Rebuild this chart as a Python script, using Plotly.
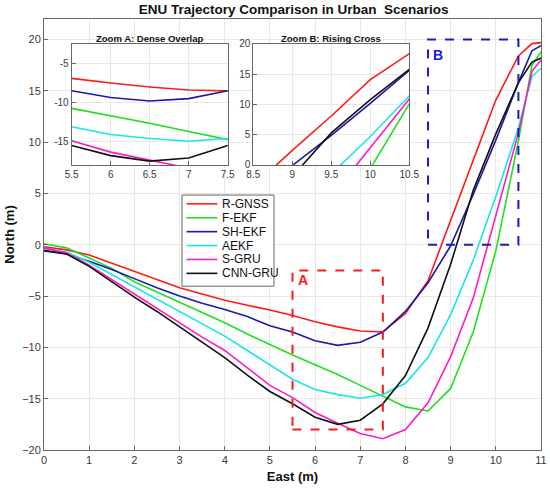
import plotly.graph_objects as go

# East positions (m)
east = [0, 0.5, 1, 1.5, 2, 2.5, 3, 3.5, 4, 4.5, 5, 5.5, 6, 6.5, 7, 7.5,
        8, 8.5, 9, 9.5, 10, 10.5, 10.8, 11]

# North positions (m) per method
r_gnss = [-0.2, -0.5, -1.0, -1.8, -2.6, -3.4, -4.2, -4.8, -5.4, -5.9, -6.35, -6.9,
          -7.5, -8.0, -8.4, -8.5, -6.7, -3.5, 2.4, 8.1, 14.1, 18.4, 19.6, 19.7]
f_ekf = [0.1, -0.3, -1.3, -2.3, -3.6, -4.6, -5.6, -6.6, -7.6, -8.7, -9.75, -10.75,
         -11.7, -12.65, -13.7, -14.75, -15.8, -16.2, -14.0, -8.5, -0.6, 10.1, 17.5, 18.8]
sh_ekf = [-0.5, -0.9, -1.6, -2.4, -3.3, -4.2, -5.0, -5.7, -6.3, -7.0, -7.9, -8.5,
          -9.35, -9.8, -9.5, -8.5, -6.5, -3.7, -0.1, 4.9, 10.2, 15.8, 18.9, 19.4]
aekf = [-0.4, -0.7, -1.7, -2.9, -4.1, -5.3, -6.5, -7.7, -8.9, -10.3, -11.7, -13.1,
        -14.1, -14.6, -14.95, -14.6, -13.5, -11.0, -6.8, -1.5, 4.7, 11.4, 16.4, 17.2]
s_gru = [-0.3, -0.8, -2.0, -3.4, -4.85, -6.2, -7.6, -9.0, -10.3, -12.0, -13.7, -14.9,
         -16.35, -17.4, -18.4, -18.9, -18.0, -15.4, -10.9, -5.2, 2.9, 10.9, 16.9, 18.0]
cnn_gru = [-0.6, -0.9, -2.1, -3.6, -5.1, -6.5, -8.0, -9.5, -11.0, -12.7, -14.3, -15.5,
           -16.8, -17.5, -17.1, -15.5, -12.75, -8.1, -1.9, 5.3, 10.8, 15.8, 17.8, 18.2]

names = ["R-GNSS", "F-EKF", "SH-EKF", "AEKF", "S-GRU", "CNN-GRU"]
series = [r_gnss, f_ekf, sh_ekf, aekf, s_gru, cnn_gru]
colors = ["#FF1A1A", "#1FE01F", "#1A1AA6", "#1AE6E6", "#FF1AC6", "#111111"]

# zoom windows
zoom_a = dict(x=[5.5, 7.5], y=[-18, -2.5])
zoom_b = dict(x=[8.5, 10.5], y=[0, 20])

FONT = "Arial, Liberation Sans, sans-serif"

fig = go.Figure()

for axis_x, axis_y in [("x", "y"), ("x2", "y2"), ("x3", "y3")]:
    for n, s, c in zip(names, series, colors):
        fig.add_trace(go.Scatter(x=east, y=s, name=n, mode="lines",
                                 line=dict(color=c, width=1.6),
                                 xaxis=axis_x, yaxis=axis_y, showlegend=False))

tick_font = dict(family=FONT, size=11, color="#3a3a3a")
axis_common = dict(showline=True, linecolor="#666666", linewidth=1, mirror=True,
                   ticks="inside", ticklen=4, tickcolor="#666666",
                   showgrid=True, gridcolor="#e8e8e8", zeroline=False,
                   tickfont=tick_font, automargin=False)
inset_font = dict(family=FONT, size=10, color="#3a3a3a")

fig.update_layout(
    width=550, height=489,
    margin=dict(l=44, r=9, t=19, b=39),
    plot_bgcolor="white", paper_bgcolor="white",
    showlegend=False,
    title=dict(text="<b>ENU Trajectory Comparison in Urban  Scenarios</b>",
               x=0.534, xanchor="center", y=0.99, yanchor="top",
               font=dict(family=FONT, size=13.5, color="#111")),
    xaxis=dict(range=[0, 11], dtick=1, domain=[0, 1],
               title=dict(text="<b>East (m)</b>", standoff=6,
                          font=dict(family=FONT, size=13, color="#111")),
               **axis_common),
    yaxis=dict(range=[-20, 22], tickvals=[-20, -15, -10, -5, 0, 5, 10, 15, 20],
               ticktext=["\u221220", "\u221215", "\u221210", "\u22125", "0", "5", "10", "15", "20"],
               domain=[0, 1],
               title=dict(text="<b>North (m)</b>", standoff=4,
                          font=dict(family=FONT, size=13, color="#111")),
               **axis_common),
    xaxis2=dict(range=zoom_a["x"], dtick=0.5, domain=[0.0557, 0.3696], anchor="y2", **axis_common),
    yaxis2=dict(range=zoom_a["y"], tickvals=[-15, -10, -5], ticktext=["-15", "-10", "-5"],
                domain=[0.6613, 0.942], anchor="x2", **axis_common),
    xaxis3=dict(range=zoom_b["x"], dtick=0.5, domain=[0.4211, 0.735], anchor="y3", **axis_common),
    yaxis3=dict(range=zoom_b["y"], dtick=5, domain=[0.6613, 0.942], anchor="x3", **axis_common),
)
for ax in ["xaxis2", "yaxis2", "xaxis3", "yaxis3"]:
    fig.layout[ax].tickfont = inset_font

# inset titles
for ref, txt in [("2", "Zoom A: Dense Overlap"), ("3", "Zoom B: Rising Cross")]:
    fig.add_annotation(text="<b>%s</b>" % txt, xref="x%s domain" % ref, yref="y%s domain" % ref,
                       x=0.5, y=1.0, yanchor="bottom", yshift=-2, showarrow=False,
                       font=dict(family=FONT, size=9.5, color="#111"))

# dashed zoom boxes in the main axes
for box, col, lab, dy in [(zoom_a, "#FF1A1A", "A", 0.1), (zoom_b, "#1A1ACC", "B", 0.6)]:
    fig.add_shape(type="rect", xref="x", yref="y",
                  x0=box["x"][0], x1=box["x"][1], y0=box["y"][0], y1=box["y"][1],
                  line=dict(color=col, width=2, dash="dash"))
    fig.add_annotation(text="<b>%s</b>" % lab, xref="x", yref="y",
                       x=box["x"][0] + 0.09, y=box["y"][1] - dy, xanchor="left", yanchor="top",
                       showarrow=False, borderpad=0,
                       font=dict(family=FONT, size=14, color=col))

# legend box drawn by hand (tighter rows than plotly's legend)
lx0, lx1, ly1 = 0.2777, 0.4628, 0.5916
row = 13.9 / 431
ly0 = ly1 - row * len(names) - 0.018
fig.add_shape(type="rect", xref="paper", yref="paper", x0=lx0, x1=lx1, y0=ly0, y1=ly1,
              line=dict(color="#666666", width=1), fillcolor="white", layer="above")
for i, (n, c) in enumerate(zip(names, colors)):
    yy = ly1 - 0.0205 - i * row
    fig.add_shape(type="line", xref="paper", yref="paper",
                  x0=lx0 + 0.009, x1=lx0 + 0.071, y0=yy, y1=yy,
                  line=dict(color=c, width=1.6), layer="above")
    fig.add_annotation(text=n, xref="paper", yref="paper", x=lx0 + 0.077, y=yy,
                       xanchor="left", yanchor="middle", showarrow=False,
                       font=dict(family=FONT, size=12, color="#111"))

fig.write_html("out.html", config={"displayModeBar": False},
               post_script="document.body.style.margin='0px';")
